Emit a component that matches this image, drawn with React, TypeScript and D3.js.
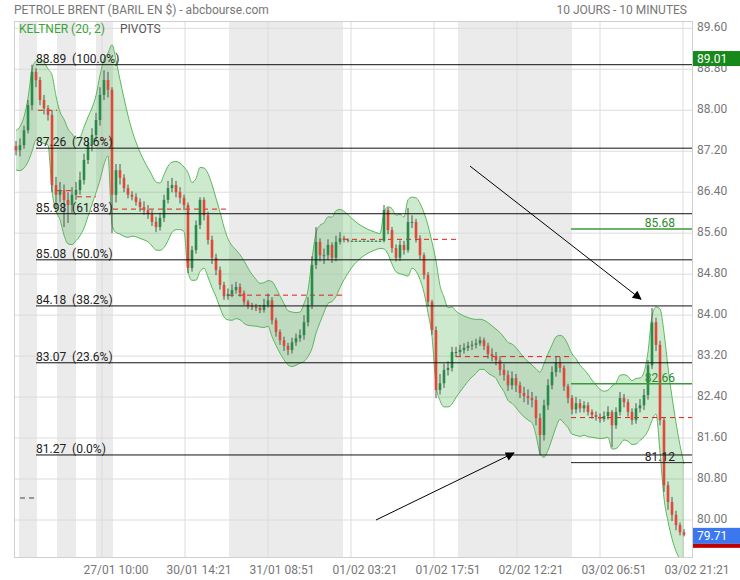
import React from 'react';
import * as d3 from 'd3';

// ---- DATA ----
const firstOpen = 87.3;
const closes = [
  87.22, 87.32, 87.61, 88.10, 88.75, 88.59, 88.20, 88.04, 87.91, 86.54,
  86.35, 86.44, 86.25, 86.15, 86.35, 86.44, 86.64, 87.03, 87.32, 87.52,
  87.81, 88.30, 88.59, 88.40, 86.35, 86.83, 86.68, 86.48, 86.35, 86.31,
  86.21, 86.11, 86.05, 85.97, 85.82, 85.72, 85.90, 86.25, 86.48, 86.54,
  86.40, 86.29, 86.15, 84.92, 85.27, 85.76, 86.25, 85.95, 85.47, 85.12,
  84.88, 84.59, 84.37, 84.41, 84.49, 84.55, 84.43, 84.26, 84.18, 84.16,
  84.14, 84.10, 84.20, 84.29, 83.90, 83.67, 83.51, 83.40, 83.32, 83.47,
  83.55, 83.61, 83.86, 84.20, 84.98, 85.43, 85.17, 85.17, 85.37, 85.12,
  85.43, 85.50, 85.47, 85.45, 85.45, 85.45, 85.45, 85.45, 85.45, 85.45,
  85.45, 85.45, 86.05, 85.66, 85.31, 85.12, 85.37, 85.27, 85.82, 85.82,
  85.50, 85.17, 84.78, 84.26, 83.71, 82.54, 82.67, 82.93, 82.97, 83.28,
  83.28, 83.32, 83.36, 83.40, 83.42, 83.45, 83.51, 83.40, 83.24, 83.20,
  83.12, 82.93, 82.83, 82.63, 82.77, 82.63, 82.48, 82.42, 82.38, 82.34,
  81.99, 81.66, 82.24, 82.63, 82.89, 83.08, 82.97, 82.61, 82.38, 82.16,
  82.28, 82.18, 82.24, 82.11, 82.05, 82.01, 81.97, 82.03, 82.11, 81.85,
  82.11, 82.38, 82.30, 82.11, 81.95, 82.18, 82.24, 82.44, 83.02, 83.86,
  83.42, 81.95, 80.68, 80.35, 80.10, 79.90, 79.76, 79.71,
];
const highs = [
  87.40, 87.45, 87.70, 88.20, 88.89, 88.82, 88.65, 88.30, 88.10, 88.00,
  86.70, 86.60, 86.55, 86.40, 86.50, 86.60, 86.80, 87.15, 87.45, 87.65,
  87.95, 88.45, 88.78, 88.75, 88.45, 86.95, 86.95, 86.75, 86.55, 86.42,
  86.38, 86.28, 86.22, 86.15, 86.05, 85.92, 86.00, 86.35, 86.62, 86.68,
  86.62, 86.50, 86.35, 86.20, 85.35, 85.85, 86.30, 86.30, 86.02, 85.55,
  85.20, 84.95, 84.65, 84.52, 84.60, 84.65, 84.62, 84.48, 84.30, 84.24,
  84.22, 84.20, 84.32, 84.42, 84.35, 83.95, 83.72, 83.58, 83.46, 83.56,
  83.64, 83.72, 84.00, 84.35, 85.15, 85.72, 85.50, 85.30, 85.48, 85.42,
  85.55, 85.62, 85.55, 85.50, 85.46, 85.46, 85.46, 85.46, 85.46, 85.46,
  85.46, 85.46, 86.15, 86.10, 85.72, 85.38, 85.46, 85.45, 86.09, 85.95,
  85.88, 85.56, 85.22, 84.84, 84.30, 83.78, 82.85, 83.05, 83.10, 83.38,
  83.38, 83.42, 83.45, 83.48, 83.50, 83.54, 83.58, 83.56, 83.46, 83.35,
  83.28, 83.20, 83.05, 82.92, 82.90, 82.85, 82.70, 82.60, 82.55, 82.50,
  82.42, 82.08, 82.35, 82.75, 83.00, 83.20, 83.18, 83.02, 82.66, 82.44,
  82.40, 82.36, 82.32, 82.30, 82.16, 82.12, 82.08, 82.12, 82.22, 82.15,
  82.20, 82.50, 82.46, 82.36, 82.18, 82.28, 82.36, 82.56, 83.12, 84.14,
  83.95, 83.50, 82.00, 80.75, 80.45, 80.18, 79.95, 79.82,
];
const lows = [
  87.12, 87.10, 87.25, 87.55, 88.00, 88.45, 88.10, 87.92, 87.80, 86.40,
  86.10, 86.20, 85.72, 85.80, 86.00, 86.25, 86.35, 86.55, 86.95, 87.20,
  87.40, 87.70, 88.20, 88.25, 85.60, 86.20, 86.55, 86.40, 86.28, 86.24,
  86.14, 86.02, 85.96, 85.88, 85.74, 85.62, 85.65, 85.82, 86.18, 86.40,
  86.30, 86.18, 86.05, 84.82, 84.85, 85.20, 85.68, 85.85, 85.38, 85.00,
  84.78, 84.50, 84.30, 84.30, 84.35, 84.42, 84.36, 84.20, 84.12, 84.10,
  84.08, 84.04, 84.05, 84.15, 83.82, 83.58, 83.42, 83.30, 83.22, 83.25,
  83.40, 83.48, 83.52, 83.78, 84.12, 84.90, 85.05, 85.00, 85.08, 85.02,
  85.05, 85.38, 85.42, 85.42, 85.44, 85.44, 85.44, 85.44, 85.44, 85.44,
  85.44, 85.44, 85.42, 85.58, 85.22, 85.05, 85.06, 85.18, 85.22, 85.70,
  85.42, 85.08, 84.70, 84.18, 83.62, 82.38, 82.45, 82.58, 82.82, 82.90,
  83.18, 83.20, 83.25, 83.30, 83.32, 83.35, 83.40, 83.32, 83.15, 83.10,
  83.02, 82.82, 82.72, 82.52, 82.55, 82.50, 82.38, 82.30, 82.25, 82.20,
  81.85, 81.27, 81.55, 82.15, 82.55, 82.80, 82.88, 82.52, 82.28, 82.06,
  82.08, 82.10, 82.10, 82.04, 81.98, 81.94, 81.90, 81.92, 81.96, 81.42,
  81.78, 82.04, 82.20, 82.02, 81.86, 81.88, 82.10, 82.15, 82.35, 82.95,
  83.30, 81.85, 80.55, 80.20, 79.98, 79.80, 79.70, 79.68,
];

const yTicks = [89.6, 88.8, 88.0, 87.2, 86.4, 85.6, 84.8, 84.0, 83.2, 82.4, 81.6, 80.8, 80.0];
const timeLabels = ['27/01 10:00', '30/01 14:21', '31/01 08:51', '01/02 03:21', '01/02 17:51', '02/02 12:21', '03/02 06:51', '03/02 21:21'];
const timeTickIdx = [21.5, 42.25, 63, 83.75, 104.5, 125.25, 146, 166.75];
const offStart = [0.75, 10.25, 20, 53.25, 110.5];
const offEnd = [5.25, 15, 24.25, 81.75, 139];

const fibValues = [88.89, 87.26, 85.98, 85.08, 84.18, 83.07, 81.27];
const fibPcts = ['100.0%', '78.6%', '61.8%', '50.0%', '38.2%', '23.6%', '0.0%'];
const fibStartIdx = 5;

const pivotStart = [1, 5.5, 10.25, 15.25, 21, 24.25, 53.25, 81.75, 110, 138.75];
const pivotEnd = [5, 10.25, 15.25, 20, 24.25, 53.25, 81.75, 110.5, 138.75, 169];
const pivotValues = [80.43, 88.0, 86.43, 86.31, 87.42, 86.07, 84.39, 85.48, 83.19, 82.0];

const levelValues = [85.68, 82.66, 81.12];
const levelColors = ['#3a9a3a', '#3a9a3a', '#222'];
const levelStartIdx = 138.75;

const markerValue = 89.01;
const arrowFrom = [[113.5, 86.91], [90, 80.0]];
const arrowTo = [[156.25, 84.31], [124.5, 81.31]];

// Keltner settings (periods expressed in the aggregated candles used here)
const MID_PERIOD = 5;
const ATR_PERIOD = 10;
const KMULT = 1.8;

const FONT = 'Roboto, Arial, sans-serif';

export default function App() {
  const W = 740, H = 580;
  const left = 14, right = 692, top = 21, bottom = 557;
  const N = closes.length;
  const x = d3.scaleLinear().domain([0, N - 1]).range([16, 684]);
  const y = d3.scaleLinear().domain([80, 88.8]).range([520, 69.3]);
  const opens = closes.map((c, i) => (i === 0 ? firstOpen : closes[i - 1]));

  // Keltner channel
  const aM = 2 / (MID_PERIOD + 1);
  const aA = 2 / (ATR_PERIOD + 1);
  let mid = closes[0];
  let atr = 0.2;
  const upper: number[] = [];
  const lower: number[] = [];
  closes.forEach((c, i) => {
    const pc = opens[i];
    const tr = Math.max(highs[i] - lows[i], Math.abs(highs[i] - pc), Math.abs(lows[i] - pc));
    mid = aM * c + (1 - aM) * mid;
    atr = aA * tr + (1 - aA) * atr;
    upper.push(mid + KMULT * atr);
    lower.push(mid - KMULT * atr);
  });
  const idx = d3.range(N);
  const area = d3.area<number>().x((i) => x(i)).y0((i) => y(lower[i])).y1((i) => y(upper[i])).curve(d3.curveMonotoneX);
  const lineU = d3.line<number>().x((i) => x(i)).y((i) => y(upper[i])).curve(d3.curveMonotoneX);
  const lineL = d3.line<number>().x((i) => x(i)).y((i) => y(lower[i])).curve(d3.curveMonotoneX);

  const bw = 2.6;
  const lastVal = closes[N - 1];

  return (
    <svg width={W} height={H} style={{ position: 'absolute', left: 0, top: 0, background: '#fff' }} fontFamily={FONT}>
      <defs>
        <clipPath id="plot">
          <rect x={left} y={top} width={right - left} height={bottom - top} />
        </clipPath>
        <marker id="arr" viewBox="0 0 10 10" refX="9" refY="5" markerWidth="11" markerHeight="9" orient="auto" markerUnits="userSpaceOnUse">
          <path d="M0,0 L10,5 L0,10 z" fill="#000" />
        </marker>
      </defs>

      {/* title */}
      <text x={14} y={14} fontSize={12} fill="#777">PETROLE BRENT (BARIL EN $) - abcbourse.com</text>
      <text x={687} y={14} fontSize={12} fill="#777" textAnchor="end">10 JOURS - 10 MINUTES</text>

      {/* off-session shading */}
      <g clipPath="url(#plot)">
        {offStart.map((s, k) => (
          <rect key={k} x={x(s)} y={top} width={x(offEnd[k]) - x(s)} height={bottom - top} fill="#ebebeb" />
        ))}
      </g>

      {/* grid */}
      {yTicks.map((t) => (
        <line key={t} x1={left} x2={right} y1={y(t)} y2={y(t)} stroke="#dcdcdc" strokeWidth={1} />
      ))}
      {timeTickIdx.map((t, k) => (
        <line key={k} x1={x(t)} x2={x(t)} y1={top} y2={bottom} stroke="#dcdcdc" strokeWidth={1} />
      ))}
      <rect x={left + 0.5} y={top + 0.5} width={right - left} height={bottom - top} fill="none" stroke="#d0d0d0" />

      <g clipPath="url(#plot)">
        {/* Keltner band */}
        <path d={area(idx) || ''} fill="rgba(76,175,80,0.28)" />
        <path d={lineU(idx) || ''} fill="none" stroke="#5cb85c" strokeWidth={1} />
        <path d={lineL(idx) || ''} fill="none" stroke="#5cb85c" strokeWidth={1} />

        {/* pivots */}
        {pivotValues.map((v, k) => (
          <line key={k} x1={x(pivotStart[k])} x2={x(pivotEnd[k])} y1={y(v)} y2={y(v)}
            stroke={k === 0 ? '#444' : '#e0201a'} strokeWidth={1} strokeDasharray="5,4" />
        ))}

        {/* candles */}
        {idx.map((i) => (
          <line key={'w' + i} x1={x(i)} x2={x(i)} y1={y(highs[i])} y2={y(lows[i])} stroke="#555" strokeWidth={1} />
        ))}
        {idx.map((i) => {
          const o = opens[i], c = closes[i];
          const up = c >= o;
          const y0 = y(Math.max(o, c));
          const h = Math.max(1, Math.abs(y(o) - y(c)));
          return <rect key={'b' + i} x={x(i) - bw / 2} y={y0} width={bw} height={h} fill={up ? '#2a8a4a' : '#e0483a'} />;
        })}

        {/* fibonacci */}
        {fibValues.map((v, k) => (
          <g key={k}>
            <line x1={x(fibStartIdx)} x2={right} y1={y(v)} y2={y(v)} stroke="#111" strokeWidth={1} />
            <text x={x(fibStartIdx)} y={y(v) - 2} fontSize={12} fill="#222" style={{ whiteSpace: 'pre' }}>
              {v.toFixed(2) + '  (' + fibPcts[k] + ')'}
            </text>
          </g>
        ))}

        {/* right levels */}
        {levelValues.map((v, k) => (
          <g key={k}>
            <line x1={x(levelStartIdx)} x2={right} y1={y(v)} y2={y(v)} stroke={levelColors[k]} strokeWidth={k < 2 ? 1.5 : 1} />
            <text x={675} y={y(v) - 2} fontSize={12} fill={k < 2 ? '#2a8a2a' : '#222'} textAnchor="end">{v.toFixed(2)}</text>
          </g>
        ))}

        {/* arrows */}
        {arrowFrom.map((a, k) => (
          <line key={k} x1={x(a[0])} y1={y(a[1])} x2={x(arrowTo[k][0])} y2={y(arrowTo[k][1])} stroke="#000" strokeWidth={1} markerEnd="url(#arr)" />
        ))}
      </g>

      {/* legend */}
      <text x={19} y={33} fontSize={12} fill="#3aa53a">KELTNER (20, 2)</text>
      <text x={120} y={33} fontSize={12} fill="#555">PIVOTS</text>

      {/* y axis labels */}
      {yTicks.map((t) => (
        <text key={t} x={697} y={y(t) + 3} fontSize={12} fill="#777">{t.toFixed(2)}</text>
      ))}

      {/* price boxes */}
      <rect x={693} y={y(markerValue) - 7.5} width={47} height={15} fill="#16891a" />
      <text x={697} y={y(markerValue) + 4.5} fontSize={12} fill="#fff">{markerValue.toFixed(2)}</text>
      <rect x={693} y={y(lastVal) - 7} width={47} height={16} fill="#3b78f0" />
      <rect x={693} y={y(lastVal) + 9} width={47} height={4} fill="#c00000" />
      <text x={697} y={y(lastVal) + 5.5} fontSize={12} fill="#fff">{lastVal.toFixed(2)}</text>

      {/* x axis labels */}
      {timeLabels.map((l, k) => (
        <text key={k} x={x(timeTickIdx[k]) + 14} y={574} fontSize={12} fill="#777" textAnchor="middle">{l}</text>
      ))}
    </svg>
  );
}
